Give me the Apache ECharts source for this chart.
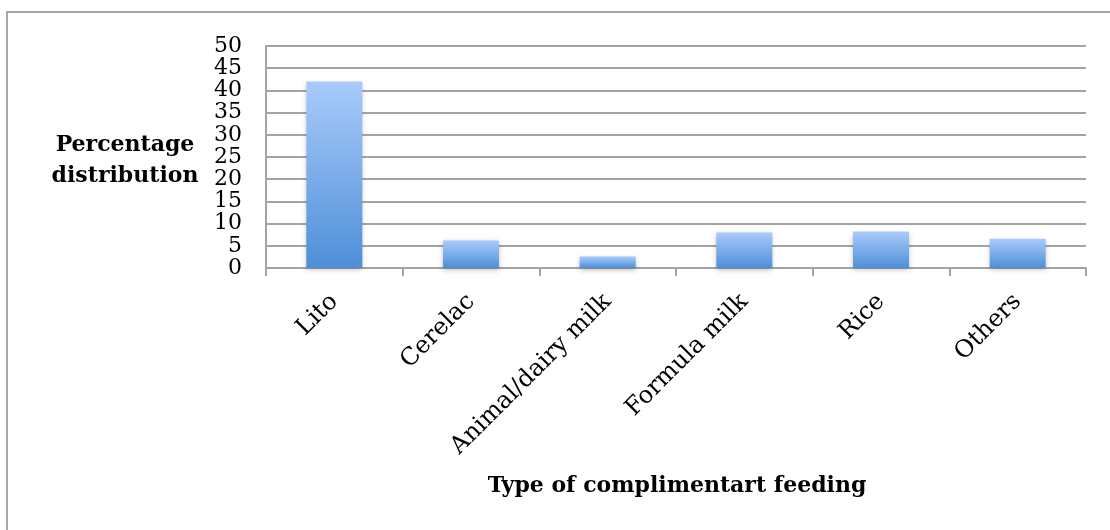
<!DOCTYPE html>
<html>
<head>
<meta charset="utf-8">
<script src="https://cdn.jsdelivr.net/npm/echarts@6/dist/echarts.min.js"></script>
<style>
  html, body { margin: 0; padding: 0; background: #fff; }
  #chart { width: 1110px; height: 530px; }
</style>
</head>
<body>
<div id="chart"></div>
<script>
// Types of complementary feeding and their share (%)
const categories = ['Lito', 'Cerelac', 'Animal/dairy milk', 'Formula milk', 'Rice', 'Others'];
const percentages = [42.0, 6.2, 2.6, 8.0, 8.2, 6.6];
const yTicks = { min: 0, max: 50, interval: 5 };

const serif = '"DejaVu Serif", "Liberation Serif", serif';
const gridColor = '#a3a3a3';

const chart = echarts.init(document.getElementById('chart'), null, { renderer: 'canvas' });

chart.setOption({
  animation: false,
  backgroundColor: '#ffffff',
  grid: { left: 266, right: 24, top: 46, bottom: 262, containLabel: false },
  graphic: [
    {
      type: 'rect',
      shape: { x: 7, y: 12, width: 1300, height: 700 },
      style: { fill: 'none', stroke: '#a6a6a6', lineWidth: 2 },
      silent: true
    },
    {
      type: 'text',
      x: 125, y: 130,
      style: {
        text: 'Percentage\ndistribution',
        font: 'bold 22px ' + serif,
        fill: '#000',
        align: 'center',
        lineHeight: 31
      }
    },
    {
      type: 'text',
      x: 677, y: 475,
      style: {
        text: 'Type of complimentart feeding',
        font: 'bold 22px ' + serif,
        fill: '#000',
        align: 'center'
      }
    }
  ],
  xAxis: {
    type: 'category',
    data: categories,
    axisLine: { show: true, lineStyle: { color: gridColor, width: 2 } },
    axisTick: { show: true, length: 8, alignWithLabel: false, lineStyle: { color: gridColor, width: 2 } },
    axisLabel: {
      rotate: 45,
      margin: 30,
      interval: 0,
      color: '#000',
      fontFamily: serif,
      fontSize: 24
    }
  },
  yAxis: {
    type: 'value',
    min: yTicks.min,
    max: yTicks.max,
    interval: yTicks.interval,
    axisLine: { show: true, lineStyle: { color: gridColor, width: 2 } },
    axisTick: { show: false },
    splitLine: { show: true, lineStyle: { color: gridColor, width: 2 } },
    axisLabel: {
      margin: 24,
      color: '#000',
      fontFamily: serif,
      fontSize: 22,
      lineHeight: 22,
      hideOverlap: false
    }
  },
  series: [{
    type: 'bar',
    data: percentages,
    barWidth: 56,
    itemStyle: {
      color: new echarts.graphic.LinearGradient(0, 0, 0, 1, [
        { offset: 0, color: '#a9cbfb' },
        { offset: 1, color: '#4e8fd8' }
      ]),
      shadowColor: 'rgba(0,0,0,0.25)',
      shadowBlur: 5,
      shadowOffsetY: 2
    }
  }]
});
</script>
</body>
</html>
